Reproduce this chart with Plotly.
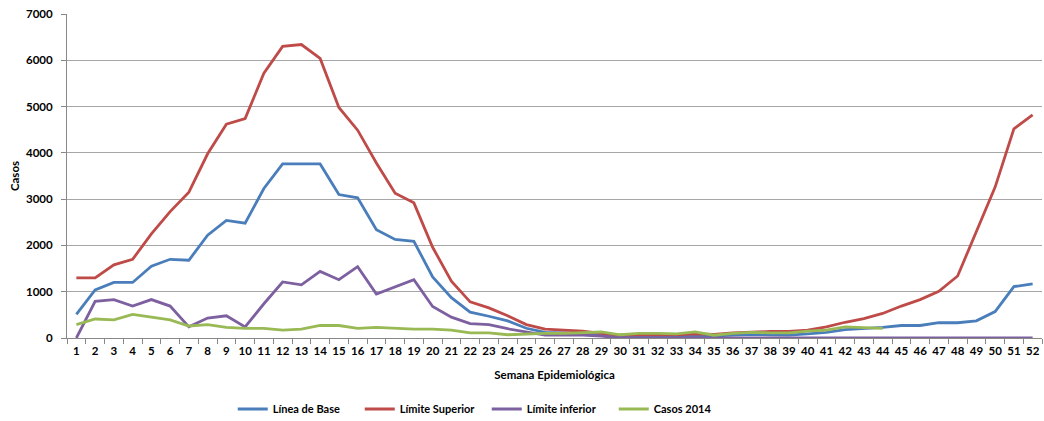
import plotly.graph_objects as go

weeks = [str(i) for i in range(1, 53)]

linea_base = [510, 1040, 1200, 1200, 1550, 1700, 1680, 2220, 2540, 2480,
              3230, 3760, 3760, 3760, 3100, 3030, 2340, 2130, 2090, 1320,
              870, 560, 470, 370, 210, 120, 110, 100, 80, 30,
              50, 50, 40, 50, 40, 60, 80, 70, 60, 90,
              120, 180, 200, 230, 270, 270, 330, 330, 370, 570,
              1110, 1170]

limite_superior = [1300, 1300, 1580, 1700, 2250, 2730, 3150, 3980, 4620, 4740,
                   5720, 6300, 6340, 6040, 4980, 4490, 3780, 3130, 2920, 1960,
                   1230, 780, 650, 480, 290, 190, 170, 150, 100, 60,
                   70, 70, 70, 90, 80, 110, 130, 140, 140, 170,
                   240, 340, 420, 530, 690, 830, 1010, 1340, 2300, 3260,
                   4520, 4820]

limite_inferior = [0, 790, 830, 690, 830, 690, 240, 430, 480, 240,
                   740, 1210, 1150, 1440, 1260, 1540, 950, 1100, 1260, 680,
                   450, 310, 290, 200, 130, 60, 60, 60, 40, 0,
                   0, 0, 0, 0, 0, 0, 0, 0, 0, 0,
                   0, 0, 0, 0, 0, 0, 0, 0, 0, 0,
                   0, 0]

casos_2014 = [290, 410, 390, 510, 450, 390, 260, 290, 230, 210,
              210, 170, 190, 270, 270, 210, 230, 210, 190, 190,
              170, 110, 110, 70, 90, 100, 100, 110, 130, 70,
              100, 100, 90, 130, 60, 100, 120, 110, 110, 150,
              170, 240, 220, 210]

series = [
    ("Línea de Base", linea_base, "#4A7EBB"),
    ("Límite Superior", limite_superior, "#BE4B48"),
    ("Límite inferior", limite_inferior, "#7D60A0"),
    ("Casos 2014", casos_2014, "#98B954"),
]

FONT = "Lato"
TF = dict(size=11.5, family=FONT, weight="bold", color="#000000")

fig = go.Figure()
for name, vals, color in series:
    fig.add_trace(go.Scatter(
        x=weeks[:len(vals)], y=vals, name=name, mode="lines",
        line=dict(color=color, width=2.8),
    ))

fig.update_layout(
    width=1044, height=421,
    margin=dict(l=67, r=2, t=14, b=83, autoexpand=False),
    paper_bgcolor="white", plot_bgcolor="white",
    font=dict(family=FONT, size=11, color="#000000", weight="bold"),
    showlegend=True,
    legend=dict(orientation="h", x=0.170, xanchor="left",
                yref="container", y=(421 - 409) / 421, yanchor="middle",
                entrywidth=82, font=dict(size=11, family=FONT, weight="bold"),
                itemwidth=30, tracegroupgap=0),
)
fig.update_xaxes(
    type="category", range=[-0.5, 51.5], tickson="boundaries", ticks="outside", ticklen=5,
    tickcolor="#888888", showline=True, linecolor="#888888", linewidth=1,
    showgrid=False, tickangle=0, automargin=False, tickfont=TF,
    ticklabelstandoff=2,
    title=dict(text="Semana Epidemiológica", font=TF, standoff=15),
)
fig.update_yaxes(
    range=[0, 7000], dtick=1000, ticks="outside", ticklen=5, tickcolor="#888888",
    showline=True, linecolor="#888888", linewidth=1, automargin=False,
    showgrid=True, gridcolor="#A6A6A6", gridwidth=1, zeroline=False,
    tickfont=TF, ticklabelstandoff=6,
    title=dict(text="Casos", font=TF, standoff=3),
)

fig.write_html("out.html", config={"displayModeBar": False},
               post_script="document.body.style.margin='0';")
